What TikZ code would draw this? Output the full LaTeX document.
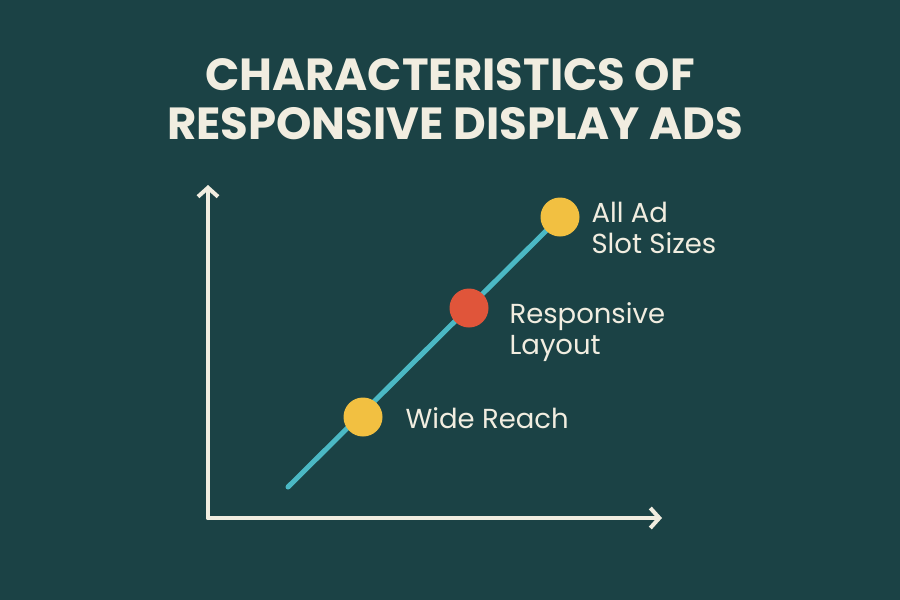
\documentclass[tikz,border=0pt]{standalone}
\usepackage{fontspec}
\setmainfont{Poppins}
\usetikzlibrary{arrows.meta}
\definecolor{bg}{HTML}{1B4245}
\definecolor{cream}{HTML}{F1EDE0}
\definecolor{teal}{HTML}{4BB8C4}
\definecolor{yel}{HTML}{F2C041}
\definecolor{org}{HTML}{E0553A}
\tikzset{
 axis/.style={draw=cream,line width=4pt,line cap=round,-{Straight Barb[length=9pt,width=20pt,line width=4pt]}},
 dot/.style={circle,minimum size=39pt,inner sep=0pt},
 lbl/.style={text=cream,font=\fontsize{27.5pt}{31pt}\selectfont,align=left,anchor=west},
 ttl/.style={text=cream,font=\fontsize{45pt}{48pt}\selectfont\bfseries}
}
\begin{document}
\begin{tikzpicture}[x=1pt,y=-1pt]
\fill[bg] (0,0) rectangle (900,600);
\useasboundingbox (0,0) rectangle (900,600);
\node[ttl] (t1) at (450,75) {CHARACTERISTICS OF};
\node[ttl] (t2) at (455,124) {RESPONSIVE DISPLAY ADS};
\coordinate (o) at (208,518);
\coordinate (yt) at (208,185);
\coordinate (xt) at (662,518);
\draw[axis] (o) -- (yt);
\draw[axis] (o) -- (xt);
\coordinate (ls) at (288,487);
\coordinate (le) at (560,217);
\draw[teal,line width=5pt,line cap=round] (ls) -- (le);
\node[dot,fill=yel] (d1) at (363,417) {};
\node[dot,fill=org] (d2) at (469,308) {};
\node[dot,fill=yel] (d3) at (560,217) {};
\node[lbl] (l1) at (402,418) {Wide Reach};
\node[lbl] (l2) at (506,332) {Responsive\\Layout};
\node[lbl] (l3) at (588,228) {All Ad\\Slot Sizes};
\end{tikzpicture}
\end{document}
